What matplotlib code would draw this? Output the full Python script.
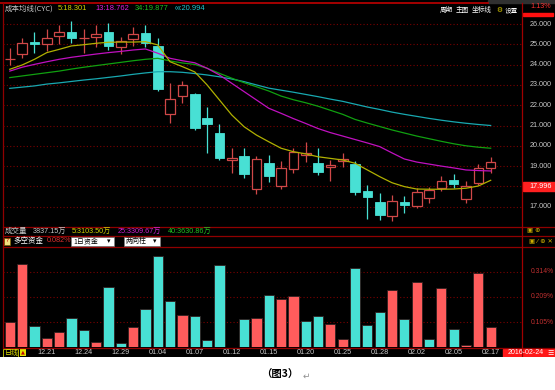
import matplotlib
matplotlib.use("Agg")
import matplotlib.pyplot as plt
from matplotlib.patches import Rectangle
import numpy as np

plt.rcParams['font.family'] = ['DejaVu Sans', 'Noto Sans CJK SC']

# ---- data ----
dates = ['12.16', '12.17', '12.18', '12.21', '12.22', '12.23', '12.24', '12.25',
         '12.28', '12.29', '12.30', '12.31', '01.04', '01.05', '01.06', '01.07',
         '01.08', '01.11', '01.12', '01.13', '01.14', '01.15', '01.18', '01.19',
         '01.20', '01.21', '01.22', '01.25', '01.26', '01.27', '01.28', '01.29',
         '02.01', '02.02', '02.03', '02.04', '02.05', '02.15', '02.16', '02.17']

opens = [24.26, 24.51, 25.10, 25.00, 25.39, 25.59, 25.29, 25.35, 25.59, 24.88,
         25.25, 25.54, 24.90, 21.57, 22.45, 22.54, 21.38, 20.65, 19.29, 19.50,
         17.89, 19.14, 18.03, 18.86, 19.53, 19.17, 18.94, 19.25, 19.10, 17.77,
         17.25, 16.54, 17.22, 17.05, 17.44, 17.91, 18.32, 17.38, 18.15, 18.89]
highs = [24.80, 25.30, 25.62, 25.74, 25.95, 26.15, 25.74, 25.95, 26.06, 25.38,
         25.84, 25.95, 25.30, 23.11, 23.19, 22.59, 21.90, 21.06, 19.90, 19.88,
         19.51, 19.55, 19.25, 19.88, 20.20, 19.88, 19.30, 19.66, 19.27, 18.07,
         17.66, 17.58, 17.53, 17.91, 17.99, 18.51, 18.61, 18.27, 19.09, 19.43]
lows = [23.98, 24.31, 24.59, 24.68, 25.00, 25.05, 24.59, 24.85, 24.72, 24.51,
        24.93, 24.88, 22.71, 21.11, 22.09, 20.80, 19.63, 19.30, 18.68, 18.43,
        17.61, 18.23, 17.86, 18.68, 19.19, 18.56, 18.28, 18.94, 17.58, 16.38,
        16.34, 16.30, 16.67, 16.95, 17.17, 17.79, 17.94, 17.17, 18.07, 18.65]
closes = [24.28, 25.05, 25.03, 25.30, 25.59, 25.30, 25.31, 25.51, 24.92, 25.18,
          25.51, 25.08, 22.81, 22.32, 23.00, 20.86, 21.09, 19.38, 19.38, 18.60,
          19.33, 18.53, 18.89, 19.71, 19.63, 18.69, 19.07, 19.35, 17.71, 17.49,
          16.59, 17.28, 17.07, 17.74, 17.82, 18.27, 18.10, 18.03, 18.89, 19.22]

# cost moving averages (成本均线)
cyc5 = [23.77, 23.98, 24.26, 24.59, 24.75, 24.92, 24.98, 25.05, 25.10, 25.11,
        25.11, 25.13, 24.97, 24.14, 23.90, 23.64, 23.00, 22.26, 21.52, 20.94,
        20.53, 20.20, 19.88, 19.71, 19.60, 19.46, 19.38, 19.30, 19.14, 18.81,
        18.48, 18.18, 17.99, 17.87, 17.86, 17.86, 17.87, 17.91, 18.02, 18.30]
cyc13 = [23.68, 23.87, 24.01, 24.14, 24.26, 24.36, 24.44, 24.52, 24.59, 24.65,
         24.72, 24.77, 24.56, 24.31, 24.19, 24.09, 23.82, 23.49, 23.08, 22.67,
         22.26, 21.85, 21.60, 21.34, 21.10, 20.85, 20.65, 20.48, 20.31, 20.14,
         19.96, 19.65, 19.35, 19.20, 19.10, 19.00, 18.91, 18.81, 18.78, 18.76]
cyc34 = [23.36, 23.44, 23.52, 23.60, 23.68, 23.78, 23.87, 23.95, 24.03, 24.11,
         24.19, 24.26, 24.31, 24.18, 24.08, 24.01, 23.82, 23.57, 23.33, 23.11,
         22.91, 22.70, 22.45, 22.27, 22.12, 21.95, 21.75, 21.55, 21.30, 21.12,
         20.95, 20.78, 20.63, 20.48, 20.35, 20.22, 20.10, 20.00, 19.93, 19.88]
cyc_inf = [22.83, 22.89, 22.95, 23.04, 23.10, 23.17, 23.24, 23.30, 23.37, 23.44,
           23.52, 23.59, 23.65, 23.65, 23.62, 23.56, 23.49, 23.40, 23.29, 23.16,
           23.00, 22.84, 22.74, 22.64, 22.53, 22.42, 22.30, 22.19, 22.05, 21.91,
           21.79, 21.66, 21.55, 21.45, 21.35, 21.26, 21.18, 21.11, 21.05, 21.00]

# 多空资金 (%), direction: 1 = red, 0 = cyan
funds = [0.103, 0.348, 0.089, 0.037, 0.064, 0.121, 0.072, 0.021, 0.252, 0.019,
         0.083, 0.161, 0.380, 0.193, 0.133, 0.128, 0.029, 0.341, 0.0, 0.117,
         0.123, 0.216, 0.200, 0.214, 0.108, 0.128, 0.097, 0.036, 0.329, 0.093,
         0.146, 0.236, 0.119, 0.270, 0.033, 0.248, 0.075, 0.008, 0.309, 0.083]
fund_dir = [1, 1, 0, 1, 1, 0, 0, 1, 0, 0, 1, 0, 0, 0, 1, 0, 0, 0, 0, 0,
            1, 0, 1, 1, 0, 0, 1, 1, 0, 0, 0, 1, 0, 1, 0, 1, 0, 1, 1, 1]

price_ticks = [26, 25, 24, 23, 22, 21, 20, 19, 17]
fund_ticks = [0.105, 0.209, 0.314]

W, H = 555, 390
BG = 'black'
GRID = '#7a0000'
UP = '#d04848'
DOWN = '#48e0d4'
FUP = '#ff5c5c'
LBL = '#c8c8c8'
NUM = ['Liberation Sans Narrow', 'Liberation Sans', 'Noto Sans CJK SC']
CJK = ['Noto Sans CJK SC', 'DejaVu Sans']


def fx(x):
    return x / W


def fy(y):
    return 1 - y / H


fig = plt.figure(figsize=(W / 100, H / 100), dpi=100)
fig.patch.set_facecolor('white')

# black panel behind everything (pixel coords, y down)
bg = fig.add_axes([0, fy(357), 1, 357 / H])
bg.set_facecolor(BG)
bg.set_xlim(0, W)
bg.set_ylim(357, 0)
bg.set_xticks([])
bg.set_yticks([])
for s in bg.spines.values():
    s.set_visible(False)
# frame lines
bg.plot([0, 488], [3, 3], color='#c00000', lw=1.2)
bg.add_patch(Rectangle((488, 0), 67, 3, color='#303030'))
for yy in (226.5, 235.5, 246.5, 347.5):
    bg.plot([3, 555], [yy, yy], color='#900000', lw=0.9)
bg.plot([3, 3], [3, 347], color='#900000', lw=0.9)
bg.plot([522, 522], [3, 357], color='#a00000', lw=0.9)
bg.add_patch(Rectangle((523, 13), 30, 2.5, color='#ff1010'))

n = len(dates)
idx = np.arange(n)
xl = (-0.55, 41.54)

# ---- price panel ----
ax = fig.add_axes([fx(3), fy(226), fx(519), 222 / H])
ax.set_facecolor('none')
ax.set_xlim(*xl)
ax.set_ylim(26 - 202 / 20.3, 26 + 20 / 20.3)
for p in price_ticks + [18]:
    ax.axhline(p, color=GRID, lw=0.8, ls=(0, (1, 2)), zorder=0)

for i in idx:
    o, h, l, c = opens[i], highs[i], lows[i], closes[i]
    up = c >= o
    lo_b, hi_b = min(o, c), max(o, c)
    if hi_b - lo_b < 0.04:
        hi_b = lo_b + 0.04
    col = UP if up else DOWN
    ax.vlines(i, l, h, color=col, lw=0.9, zorder=2)
    if up:
        ax.bar(i, hi_b - lo_b, bottom=lo_b, width=0.78, facecolor=BG,
               edgecolor=col, lw=0.9, zorder=3)
    else:
        ax.bar(i, hi_b - lo_b, bottom=lo_b, width=0.78, facecolor=col,
               edgecolor=col, lw=0.6, zorder=3)

ax.plot(idx, cyc_inf, color='#18a8b0', lw=0.9, zorder=4)
ax.plot(idx, cyc34, color='#10a010', lw=0.9, zorder=4)
ax.plot(idx, cyc13, color='#c010c0', lw=0.9, zorder=4)
ax.plot(idx, cyc5, color='#b0b000', lw=0.9, zorder=4)
ax.axis('off')

# right axis labels (price)
for p in price_ticks:
    y = 24 + (26 - p) * 20.3
    fig.text(fx(552), fy(y), f'{p:.3f}', color=LBL, fontsize=5.2,
             ha='right', va='center', family=NUM)
y_mark = 24 + (26 - 17.996) * 20.3
bg.add_patch(Rectangle((523, y_mark - 4.5), 32, 9, color='#ff2020'))
fig.text(fx(552), fy(y_mark), '17.996', color='white', fontsize=5.2,
         ha='right', va='center', family=NUM)
fig.text(fx(551), fy(7), '1.13%', color='#ff3030', fontsize=5.2,
         ha='right', va='center', family=NUM)

# header row
fig.text(fx(5), fy(9), '成本均线(CYC)', color=LBL, fontsize=5.4, va='center', family=CJK)
fig.text(fx(58), fy(9), '5:18.301', color='#d0d000', fontsize=5.4, va='center', family=NUM)
fig.text(fx(95), fy(9), '13:18.762', color='#e020e0', fontsize=5.4, va='center', family=NUM)
fig.text(fx(135), fy(9), '34:19.877', color='#20c020', fontsize=5.4, va='center', family=NUM)
fig.text(fx(175), fy(9), '∞:20.994', color='#20c8d0', fontsize=5.4, va='center', family=NUM)
for xt, label in ((440, '周期'), (456, '主图'), (472, '坐标线')):
    fig.text(fx(xt), fy(10), label, color='white', fontsize=4.8, va='center', family=CJK)
fig.text(fx(496), fy(10), '⚙', color='#e0d000', fontsize=4.8, va='center', family=['DejaVu Sans'])
fig.text(fx(505), fy(10), '设置', color='white', fontsize=4.8, va='center', family=CJK)

# ---- volume / funds panel ----
ax2 = fig.add_axes([fx(3), fy(347.3), fx(519), 100.3 / H])
ax2.set_facecolor('none')
ax2.set_xlim(*xl)
ax2.set_ylim(0, 100.3 * 0.004153)
for t in fund_ticks:
    ax2.axhline(t, color=GRID, lw=0.8, ls=(0, (1, 2)), zorder=0)
bar_cols = [FUP if d else DOWN for d in fund_dir]
ax2.bar(idx, funds, width=0.83, color=bar_cols, edgecolor='#302020', lw=0.6, zorder=2)
ax2.axis('off')

for t in fund_ticks:
    y = 347.3 - t / 0.004153
    fig.text(fx(554), fy(y), f'{t:.3f}%', color='#c03030', fontsize=4.9,
             ha='right', va='center', family=NUM)

fig.text(fx(5), fy(231), '成交量', color=LBL, fontsize=5.4, va='center', family=CJK)
fig.text(fx(33), fy(231), '3837.15万', color=LBL, fontsize=5.2, va='center', family=NUM)
fig.text(fx(72), fy(231), '5:3103.50万', color='#d0d000', fontsize=5.2, va='center', family=NUM)
fig.text(fx(118), fy(231), '25:3309.67万', color='#d020d0', fontsize=5.2, va='center', family=NUM)
fig.text(fx(168), fy(231), '40:3630.86万', color='#20c020', fontsize=5.2, va='center', family=NUM)

bg.add_patch(Rectangle((4, 237.5), 6, 7, facecolor='#f0e080', edgecolor='#806000', lw=0.5))
fig.text(fx(7), fy(241), '?', color='#c00000', fontsize=4.5, ha='center', va='center')
fig.text(fx(13), fy(241), '多空资金', color='white', fontsize=5.4, va='center', family=CJK)
fig.text(fx(47), fy(241), '0.082%', color='#e03030', fontsize=5.2, va='center', family=NUM)
for x0, w, label in ((71, 43, '1日资金'), (124, 36, '两向柱')):
    bg.add_patch(Rectangle((x0, 237), w, 9, facecolor='white', edgecolor='#808080', lw=0.5))
    fig.text(fx(x0 + 2), fy(241.5), label, color='black', fontsize=5.0, va='center', family=CJK)
    fig.text(fx(x0 + w - 5), fy(241.5), '▾', color='black', fontsize=5.0, va='center', ha='center',
             family=['DejaVu Sans'])

# little toolbar glyphs on the right
fig.text(fx(540), fy(230.5), '▣ ⊕', color='#d0b000', fontsize=4.6, va='center', ha='right',
         family=['DejaVu Sans'])
fig.text(fx(553), fy(240.5), '▣ ⁄ ⊕ ✕', color='#d0b000', fontsize=4.6, va='center', ha='right',
         family=['DejaVu Sans'])

# ---- date row ----
bg.add_patch(Rectangle((3, 348.5), 15, 8, facecolor='none', edgecolor='#d0d000', lw=0.6))
fig.text(fx(4.5), fy(352.5), '日线', color='#e0e000', fontsize=5.0, va='center', family=CJK)
bg.add_patch(Rectangle((20, 348.5), 6, 7.5, facecolor='#e0e000'))
fig.text(fx(23), fy(352.3), '▲', color='#c00000', fontsize=3.6, va='center', ha='center',
         family=['DejaVu Sans'])
for i in range(3, n, 3):
    x = 9.8 + i * 12.33
    fig.text(fx(x), fy(352.5), dates[i], color=LBL, fontsize=5.2, ha='center',
             va='center', family=NUM)
bg.add_patch(Rectangle((503, 348.5), 52, 8.5, color='#ff1818'))
fig.text(fx(526), fy(352.7), '2016-02-24', color='white', fontsize=5.0, ha='center',
         va='center', family=NUM)
fig.text(fx(551), fy(352.7), '☰', color='white', fontsize=5.0, ha='center',
         va='center', family=['DejaVu Sans'])

# caption
fig.text(fx(280), fy(375), '（图3）', color='black', fontsize=7.5, ha='center',
         va='center', weight='bold', family=CJK)
fig.text(fx(306), fy(376), '↵', color='#909090', fontsize=6.5, ha='center',
         va='center', family=['DejaVu Sans'])

fig.savefig('out.png', dpi=100, facecolor=fig.get_facecolor())
